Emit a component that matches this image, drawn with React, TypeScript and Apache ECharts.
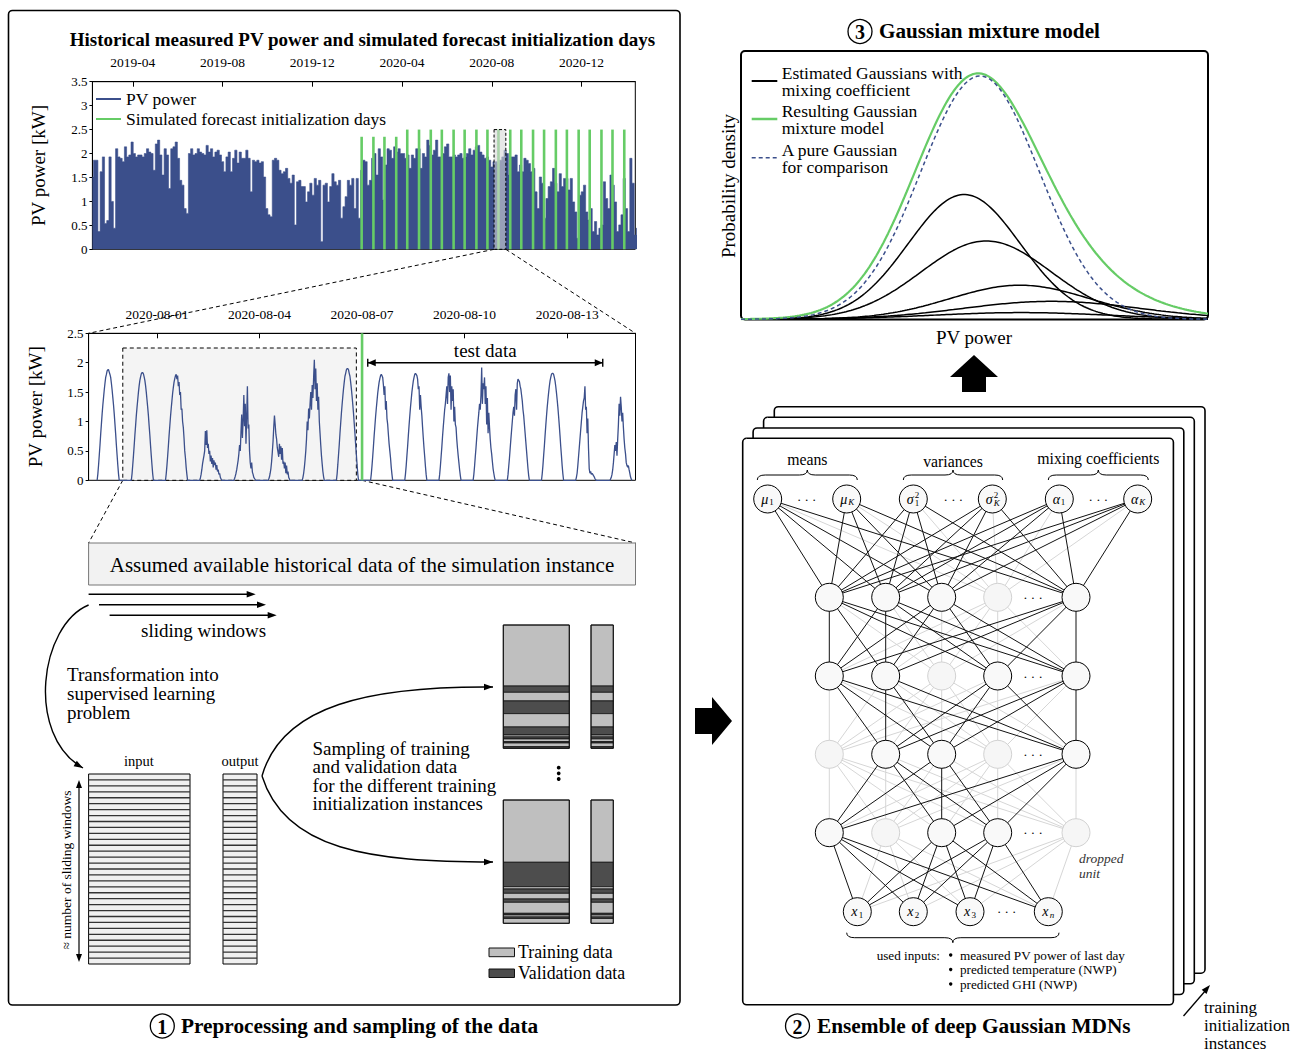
import React, { useEffect, useRef } from 'react';
import * as echarts from 'echarts';

const SERIF = '"Liberation Serif", "Times New Roman", serif';
const BLUE = '#3b4f8b';
const GREEN = '#66cc66';

// ---------------- top chart data ----------------
const topRange = ['2019-02-05', '2021-02-12'];
const topTicks = ['2019-04-01', '2019-08-01', '2019-12-01', '2020-04-01', '2020-08-01', '2020-12-01'];
const pvStartDate = '2019-02-05';
const pvStepDays = 3;
const pvPeakPower = [
  1.51, 1.86, 1.86, 0.37, 1.62, 1.93, 0.54, 0.6, 1.93, 1.0, 0.44, 2.1, 1.93, 1.9, 1.83, 2.14, 1.93, 1.97, 2.24, 2.0,
  1.93, 1.97, 1.97, 1.93, 2.0, 2.1, 2.03, 2.0, 1.65, 2.2, 2.28, 1.97, 1.55, 2.1, 1.97, 1.27, 2.1, 2.14, 2.24, 1.9,
  1.44, 1.34, 0.85, 0.75, 2.0, 2.1, 1.97, 2.0, 2.1, 2.03, 2.0, 1.97, 2.17, 2.03, 2.1, 1.93, 2.03, 2.07, 1.97, 1.83,
  1.62, 1.93, 2.03, 1.62, 1.9, 2.07, 1.8, 2.03, 1.9, 1.9, 2.07, 1.9, 1.2, 1.86, 1.83, 1.86, 1.8, 1.83, 1.51, 0.85,
  0.72, 0.68, 1.86,
  1.9, 1.86, 1.65, 1.58, 1.62, 1.69, 1.48, 1.38, 1.55, 0.51, 1.41, 1.44, 1.31, 1.31, 0.99, 1.2, 1.38, 1.13, 1.48, 1.34,
  1.44, 0.16, 1.34, 1.38, 0.99, 1.31, 1.58, 1.41, 1.34, 1.44, 0.65, 0.89, 1.1, 1.44, 1.34, 1.48, 0.85, 1.48, 0.65, 1.65,
  1.86, 1.83, 1.34, 1.44, 1.9, 2.0, 1.55, 2.1, 1.93, 1.03, 1.76, 2.1, 2.07, 1.9, 2.14, 2.03, 2.1, 2.0, 2.0, 1.9,
  1.97, 1.69, 1.97, 1.9, 2.1, 2.1, 1.69, 2.0, 1.93, 2.28, 2.17, 1.97, 2.07, 2.28, 1.93, 1.93, 2.0, 2.14, 2.2, 1.93,
  1.93, 1.97, 1.93,
  1.97, 2.0, 1.9, 1.93, 2.0, 2.1, 1.97, 2.07, 2.14, 2.17, 2.03, 1.97, 1.9, 1.93, 1.86, 1.72, 1.83, 1.83, 1.79, 1.86,
  1.93, 2.07, 2.0, 1.55, 1.93, 1.93, 1.97, 1.62, 1.76, 1.62, 1.9, 1.86, 1.79, 1.62, 1.69, 1.2, 0.85, 1.51, 1.38, 0.65,
  1.06, 1.31, 1.41, 1.69, 1.38, 1.2, 1.58, 1.31, 1.48, 1.48, 1.24, 1.48, 0.99, 0.78, 0.23, 1.13, 1.2, 1.34, 0.78, 0.61,
  0.85, 0.37, 0.58, 0.3, 0.44, 0.51, 1.41, 1.06, 0.85, 1.55, 1.34, 0.99, 0.37, 0.51, 0.72, 1.48, 0.85, 0.37, 1.9, 1.38,
  0.3, 0.44,
];
const initDays = [
  '2020-02-06', '2020-02-22', '2020-03-08', '2020-03-24', '2020-04-08', '2020-04-24', '2020-05-10', '2020-05-25',
  '2020-06-10', '2020-06-25', '2020-07-11', '2020-07-26', '2020-08-10', '2020-08-26', '2020-09-10', '2020-09-26',
  '2020-10-11', '2020-10-27', '2020-11-11', '2020-11-27', '2020-12-12', '2020-12-28', '2021-01-12', '2021-01-28',
];
const initHeights = [2.35, 2.35, 2.35, 2.35, 2.5, 2.5, 2.5, 2.5, 2.5, 2.5, 2.5, 2.5, 2.5, 2.5, 2.5, 2.5, 2.5, 2.5, 2.5, 2.5, 2.5, 2.5, 2.5, 2.5];
const topZoomBox = ['2020-08-04', '2020-08-20'];
const topZoomBoxTop = 2.5;

// ---------------- zoomed chart data ----------------
const zoomRange = ['2020-07-30', '2020-08-15'];
const zoomTicks = ['2020-08-01', '2020-08-04', '2020-08-07', '2020-08-10', '2020-08-13'];
const zoomDays = [
  '2020-07-30', '2020-07-31', '2020-08-01', '2020-08-02', '2020-08-03', '2020-08-04', '2020-08-05', '2020-08-06',
  '2020-08-07', '2020-08-08', '2020-08-09', '2020-08-10', '2020-08-11', '2020-08-12', '2020-08-13', '2020-08-14',
];
const zoomFirstHour = 6;
const zoomSlotMinutes = 30;
const zoomProfiles = [
  [0, 0.11, 0.26, 0.43, 0.6, 0.79, 0.96, 1.13, 1.28, 1.41, 1.54, 1.65, 1.75, 1.8, 1.86, 1.88, 1.88, 1.84, 1.8, 1.75, 1.65, 1.54, 1.41, 1.28, 1.13, 0.96, 0.79, 0.6, 0.43, 0.26, 0.11, 0],
  [0, 0.11, 0.26, 0.42, 0.59, 0.77, 0.93, 1.1, 1.24, 1.37, 1.5, 1.61, 1.7, 1.76, 1.81, 1.83, 1.83, 1.81, 1.76, 1.7, 1.61, 1.5, 1.37, 1.24, 1.1, 0.93, 0.77, 0.59, 0.42, 0.26, 0.11, 0],
  [0, 0.11, 0.25, 0.41, 0.58, 0.76, 0.92, 1.08, 1.22, 1.35, 1.48, 1.58, 1.67, 1.73, 1.78, 1.8, 1.72, 1.78, 1.6, 1.67, 1.45, 1.5, 1.2, 1.22, 1.0, 0.9, 0.72, 0.5, 0.38, 0.22, 0.1, 0],
  [0, 0.04, 0.1, 0.18, 0.28, 0.35, 0.42, 0.5, 0.84, 0.6, 0.85, 0.55, 0.62, 0.45, 0.5, 0.32, 0.42, 0.28, 0.38, 0.22, 0.34, 0.26, 0.3, 0.18, 0.26, 0.15, 0.18, 0.1, 0.12, 0.05, 0.02, 0],
  [0, 0.03, 0.07, 0.12, 0.18, 0.26, 0.34, 0.45, 0.6, 0.5, 0.82, 1.12, 0.72, 1.02, 1.45, 0.92, 1.3, 0.62, 1.1, 1.6, 0.88, 0.95, 0.5, 0.3, 0.2, 0.3, 0.14, 0.1, 0.05, 0.03, 0.01, 0],
  [0, 0.02, 0.06, 0.12, 0.2, 0.32, 0.48, 0.66, 0.9, 1.1, 0.95, 0.78, 0.7, 0.55, 0.48, 0.4, 0.62, 0.45, 0.58, 0.35, 0.55, 0.28, 0.32, 0.2, 0.3, 0.12, 0.25, 0.1, 0.15, 0.05, 0.02, 0],
  [0, 0.05, 0.12, 0.22, 0.35, 0.5, 0.7, 1.0, 0.85, 1.22, 1.05, 1.3, 1.5, 1.2, 1.62, 1.4, 1.75, 2.05, 1.55, 1.9, 1.35, 1.65, 1.2, 1.42, 1.0, 0.8, 0.6, 0.42, 0.28, 0.15, 0.06, 0],
  [0, 0.11, 0.27, 0.44, 0.61, 0.8, 0.97, 1.14, 1.29, 1.43, 1.56, 1.67, 1.77, 1.82, 1.88, 1.9, 1.9, 1.88, 1.82, 1.77, 1.67, 1.56, 1.43, 1.29, 1.14, 0.97, 0.8, 0.61, 0.44, 0.27, 0.11, 0],
  [0, 0.11, 0.25, 0.41, 0.58, 0.76, 0.92, 1.08, 1.22, 1.35, 1.48, 1.58, 1.67, 1.73, 1.78, 1.8, 1.78, 1.75, 1.62, 1.45, 1.6, 1.2, 1.35, 1.05, 0.95, 0.78, 0.62, 0.5, 0.38, 0.22, 0.1, 0],
  [0, 0.11, 0.25, 0.42, 0.58, 0.76, 0.93, 1.09, 1.24, 1.37, 1.5, 1.6, 1.69, 1.75, 1.8, 1.82, 1.8, 1.78, 1.72, 1.55, 1.6, 1.2, 1.45, 1.25, 1.1, 0.9, 0.72, 0.55, 0.4, 0.24, 0.1, 0],
  [0, 0.1, 0.24, 0.4, 0.56, 0.74, 0.9, 1.05, 1.2, 1.3, 1.45, 1.6, 1.3, 1.75, 1.82, 1.5, 1.78, 1.2, 1.6, 1.35, 1.55, 1.0, 1.25, 0.95, 0.9, 0.7, 0.55, 0.42, 0.3, 0.18, 0.08, 0],
  [0, 0.1, 0.24, 0.4, 0.55, 0.72, 0.88, 1.02, 1.15, 1.3, 1.2, 1.45, 1.92, 1.3, 1.65, 1.55, 1.75, 1.3, 1.6, 0.95, 1.4, 0.8, 1.15, 0.9, 0.7, 0.55, 0.45, 0.32, 0.2, 0.12, 0.05, 0],
  [0, 0.1, 0.24, 0.38, 0.54, 0.7, 0.85, 1.0, 1.15, 1.25, 1.1, 1.45, 1.55, 1.2, 1.65, 1.72, 1.7, 1.68, 1.6, 1.55, 1.45, 1.35, 1.2, 1.1, 0.95, 0.8, 0.65, 0.5, 0.35, 0.2, 0.08, 0],
  [0, 0.11, 0.25, 0.42, 0.58, 0.76, 0.93, 1.09, 1.24, 1.37, 1.49, 1.6, 1.69, 1.75, 1.8, 1.82, 1.82, 1.8, 1.75, 1.69, 1.6, 1.49, 1.37, 1.24, 1.09, 0.93, 0.76, 0.58, 0.42, 0.25, 0.11, 0],
  [0, 0.05, 0.12, 0.25, 0.4, 0.55, 0.7, 0.85, 1.0, 1.15, 1.25, 1.35, 1.4, 1.6, 1.2, 1.25, 0.8, 1.05, 0.55, 0.2, 0.12, 0.15, 0.1, 0.12, 0.1, 0.08, 0.06, 0.03, 0.01, 0, 0, 0],
  [0, 0.02, 0.05, 0.1, 0.18, 0.3, 0.45, 0.6, 0.5, 0.65, 0.42, 0.7, 0.95, 1.3, 1.1, 1.42, 1.25, 1.0, 1.15, 0.9, 0.7, 0.55, 0.45, 0.3, 0.25, 0.22, 0.25, 0.18, 0.12, 0.06, 0.02, 0],
];
const zoomInitDay = '2020-08-07';
const trainingWindow = ['2020-07-31 00:00', '2020-08-06 20:00'];
const trainingWindowTop = 2.25;
const testWindow = ['2020-08-07 04:00', '2020-08-14 01:00'];
const testWindowLevel = 2.0;

// ---------------- GMM data: [mean, std, peak height] ----------------
const gmmComponents = [
  [4.78, 1.2, 0.465],
  [5.25, 1.39, 0.292],
  [5.97, 1.5, 0.127],
  [6.65, 1.9, 0.067],
  [6.0, 1.9, 0.025],
];
const pureGaussian = [5.12, 1.27, 0.907];
const gmmXMax = 10;
const gmmSamples = 201;

// ---------------- sampling illustration: [kind, from, to] fractions ----------------
const sampleSetA = [
  ['t', 0, 0.495], ['v', 0.495, 0.546], ['t', 0.546, 0.616], ['v', 0.616, 0.719], ['t', 0.719, 0.827], ['v', 0.827, 0.892],
  ['t', 0.892, 0.908], ['v', 0.908, 0.924], ['t', 0.924, 0.946], ['v', 0.946, 0.957], ['t', 0.957, 0.987], ['v', 0.987, 1],
];
const sampleSetB = [
  ['t', 0, 0.505], ['v', 0.505, 0.703], ['t', 0.703, 0.722], ['v', 0.722, 0.757], ['t', 0.757, 0.803], ['v', 0.803, 0.83],
  ['t', 0.83, 0.919], ['v', 0.919, 0.932], ['t', 0.932, 0.949], ['v', 0.949, 0.961], ['t', 0.961, 1],
];
const stripeRows = 32;

// ---------------- network layout ----------------
const nnOutputX = [767.7, 846.7, 913.3, 992.3, 1059.3, 1137.7];
const nnOutputY = 499;
const nnHiddenX = [829.3, 885.7, 941.7, 997.7, 1076];
const nnHiddenY = [597.3, 676, 754.3, 832.7];
const nnDropped = [[3], [2], [0, 3], [1, 4]];
const nnInputX = [857.3, 913.3, 970, 1048.3];
const nnInputY = 911.7;

function parseDate(s: string): number {
  const [dp, tp] = s.split(' ');
  const [y, m, d] = dp.split('-').map(Number);
  let h = 0, mi = 0;
  if (tp) [h, mi] = tp.split(':').map(Number);
  return new Date(y, m - 1, d, h, mi).getTime();
}
const pad = (n: number) => (n < 10 ? '0' + n : '' + n);
const fmtMonth = (v: number) => { const d = new Date(v); return d.getFullYear() + '-' + pad(d.getMonth() + 1); };
const fmtDay = (v: number) => { const d = new Date(v); return d.getFullYear() + '-' + pad(d.getMonth() + 1) + '-' + pad(d.getDate()); };

const GRID_TOP = { left: 92.4, top: 81.7, width: 542.9, height: 167.6 };
const GRID_ZOOM = { left: 88.6, top: 333.3, width: 546.9, height: 147 };
const GRID_GMM = { left: 741, top: 51, width: 467, height: 268.3 };

function buildOption(): any {
  const [sy, sm, sd] = pvStartDate.split('-').map(Number);
  const pvData = pvPeakPower.map((v, i) => [new Date(sy, sm - 1, sd + pvStepDays * i).getTime(), v]);
  const initData = initDays.map((d, i) => [parseDate(d), initHeights[i]]);
  const zoomData: number[][] = [];
  zoomDays.forEach((day, di) => {
    const [y, m, d] = day.split('-').map(Number);
    zoomProfiles[di].forEach((v, j) => {
      zoomData.push([new Date(y, m - 1, d, zoomFirstHour, zoomSlotMinutes * j).getTime(), v]);
    });
  });
  const gx = Array.from({ length: gmmSamples }, (_, i) => (i * gmmXMax) / (gmmSamples - 1));
  const g = (x: number, p: number[]) => p[2] * Math.exp(-((x - p[0]) ** 2) / (2 * p[1] * p[1]));

  const axisLbl = { color: '#000', fontFamily: SERIF };
  const timeAxis = (gridIndex: number, range: string[], ticks: string[], fmt: any) => {
    const tv = ticks.map(parseDate);
    return {
      type: 'value', gridIndex, position: 'top', min: parseDate(range[0]), max: parseDate(range[1]),
      axisLine: { show: true, onZero: false, lineStyle: { color: '#000', width: 1 } },
      axisTick: { show: true, inside: true, length: 5, lineStyle: { color: '#000' }, customValues: tv },
      axisLabel: { show: true, customValues: tv, formatter: fmt, fontSize: 13.5, margin: 12, ...axisLbl },
      splitLine: { show: false }, minorTick: { show: false },
    };
  };
  const valAxis = (gridIndex: number, max: number) => ({
    type: 'value', gridIndex, min: 0, max, interval: 0.5,
    name: 'PV power [kW]', nameLocation: 'middle', nameGap: 44,
    nameTextStyle: { fontSize: 19, fontFamily: SERIF, color: '#000' },
    axisLine: { show: true, lineStyle: { color: '#000' } },
    axisTick: { show: true, length: 3, lineStyle: { color: '#000' } },
    axisLabel: { fontSize: 13, margin: 5, ...axisLbl },
    splitLine: { show: false },
  });

  const series: any[] = [
    {
      name: 'PV power', type: 'line', xAxisIndex: 0, yAxisIndex: 0, data: pvData, step: 'middle',
      symbol: 'none', lineStyle: { color: BLUE, width: 0.6 }, itemStyle: { color: BLUE },
      areaStyle: { color: BLUE, opacity: 1 }, z: 2,
    },
    {
      name: 'Simulated forecast initialization days', type: 'bar', xAxisIndex: 0, yAxisIndex: 0,
      data: initData, barWidth: 2.6, itemStyle: { color: GREEN }, z: 3,
    },
    {
      name: 'zoomBox', type: 'custom', xAxisIndex: 0, yAxisIndex: 0, z: 5,
      data: [[parseDate(topZoomBox[0]), parseDate(topZoomBox[1]), topZoomBoxTop]],
      encode: { x: [0, 1], y: [2] },
      renderItem: (_p: any, api: any) => {
        const a = api.coord([api.value(0), 0]);
        const b = api.coord([api.value(1), api.value(2)]);
        return {
          type: 'rect', shape: { x: a[0], y: b[1], width: b[0] - a[0], height: a[1] - b[1] },
          style: { fill: 'rgba(215,215,215,0.6)', stroke: '#000', lineWidth: 1, lineDash: [3, 2] },
        };
      },
    },
    {
      name: 'trainingBox', type: 'custom', xAxisIndex: 1, yAxisIndex: 1, z: 1,
      data: [[parseDate(trainingWindow[0]), parseDate(trainingWindow[1]), trainingWindowTop]],
      encode: { x: [0, 1], y: [2] },
      renderItem: (_p: any, api: any) => {
        const a = api.coord([api.value(0), 0]);
        const b = api.coord([api.value(1), api.value(2)]);
        return {
          type: 'rect', shape: { x: a[0], y: b[1], width: b[0] - a[0], height: a[1] - b[1] },
          style: { fill: '#f4f4f4', stroke: '#000', lineWidth: 1, lineDash: [4, 3] },
        };
      },
    },
    {
      name: 'PV power zoom', type: 'line', xAxisIndex: 1, yAxisIndex: 1, data: zoomData,
      symbol: 'none', lineStyle: { color: BLUE, width: 1.3 }, itemStyle: { color: BLUE }, z: 2,
    },
    {
      name: 'initLine', type: 'custom', xAxisIndex: 1, yAxisIndex: 1, z: 3,
      data: [[parseDate(zoomInitDay), 2.5]], encode: { x: [0], y: [1] },
      renderItem: (_p: any, api: any) => {
        const a = api.coord([api.value(0), 0]);
        const b = api.coord([api.value(0), api.value(1)]);
        return { type: 'line', shape: { x1: a[0], y1: a[1], x2: b[0], y2: b[1] }, style: { stroke: GREEN, lineWidth: 2.6 } };
      },
    },
    {
      name: 'testArrow', type: 'custom', xAxisIndex: 1, yAxisIndex: 1, z: 4,
      data: [[parseDate(testWindow[0]), parseDate(testWindow[1]), testWindowLevel]], encode: { x: [0, 1], y: [2] },
      renderItem: (_p: any, api: any) => {
        const a = api.coord([api.value(0), api.value(2)]);
        const b = api.coord([api.value(1), api.value(2)]);
        const y = a[1];
        return {
          type: 'group',
          children: [
            { type: 'line', shape: { x1: a[0], y1: y, x2: b[0], y2: y }, style: { stroke: '#000', lineWidth: 1.6 } },
            { type: 'line', shape: { x1: a[0], y1: y - 4, x2: a[0], y2: y + 4 }, style: { stroke: '#000', lineWidth: 1.4 } },
            { type: 'line', shape: { x1: b[0], y1: y - 4, x2: b[0], y2: y + 4 }, style: { stroke: '#000', lineWidth: 1.4 } },
            { type: 'polygon', shape: { points: [[a[0], y], [a[0] + 8, y - 3.5], [a[0] + 8, y + 3.5]] }, style: { fill: '#000' } },
            { type: 'polygon', shape: { points: [[b[0], y], [b[0] - 8, y - 3.5], [b[0] - 8, y + 3.5]] }, style: { fill: '#000' } },
            {
              type: 'text', x: (a[0] + b[0]) / 2, y: y - 12.5,
              style: { text: 'test data', fontSize: 19, fontFamily: SERIF, fill: '#000', align: 'center', verticalAlign: 'middle', textAlign: 'center', textVerticalAlign: 'middle' },
            },
          ],
        };
      },
    },
  ];
  gmmComponents.forEach((c, k) => {
    series.push({
      name: 'Gaussian ' + (k + 1), type: 'line', xAxisIndex: 2, yAxisIndex: 2, symbol: 'none', z: 3,
      data: gx.map((x) => [x, g(x, c)]), lineStyle: { color: '#000', width: 1.5 },
    });
  });
  series.push({
    name: 'Resulting Gaussian mixture model', type: 'line', xAxisIndex: 2, yAxisIndex: 2, symbol: 'none', z: 4,
    data: gx.map((x) => [x, gmmComponents.reduce((s, c) => s + g(x, c), 0)]), lineStyle: { color: GREEN, width: 2.2 },
  });
  series.push({
    name: 'A pure Gaussian for comparison', type: 'line', xAxisIndex: 2, yAxisIndex: 2, symbol: 'none', z: 5,
    data: gx.map((x) => [x, g(x, pureGaussian)]), lineStyle: { color: BLUE, width: 1.5, type: [4, 3] },
  });

  return {
    animation: false,
    textStyle: { fontFamily: SERIF },
    grid: [
      { ...GRID_TOP, show: true, borderColor: '#000', borderWidth: 1, containLabel: false },
      { ...GRID_ZOOM, show: true, borderColor: '#000', borderWidth: 1, containLabel: false },
      { ...GRID_GMM, show: false, containLabel: false },
    ],
    xAxis: [
      timeAxis(0, topRange, topTicks, fmtMonth),
      timeAxis(1, zoomRange, zoomTicks, fmtDay),
      { type: 'value', gridIndex: 2, min: 0, max: gmmXMax, show: false },
    ],
    yAxis: [
      valAxis(0, 3.5),
      valAxis(1, 2.5),
      { type: 'value', gridIndex: 2, min: 0, max: 1, show: false },
    ],
    legend: {
      data: [{ name: 'PV power', icon: 'rect' }, { name: 'Simulated forecast initialization days', icon: 'rect' }],
      orient: 'vertical', left: 96, top: 90, itemWidth: 25, itemHeight: 2, itemGap: 2, padding: 0,
      textStyle: { fontFamily: SERIF, fontSize: 17.5, color: '#000', lineHeight: 18, padding: [0, 0, 0, 0] },
      selectedMode: false,
    },
    series,
  };
}

function buildGraphics(chart: any): any[] {
  const G: any[] = [];
  const ln = (x1: number, y1: number, x2: number, y2: number, stroke = '#000', lw = 1, dash?: number[]) =>
    G.push({ type: 'line', silent: true, shape: { x1, y1, x2, y2 }, style: { stroke, lineWidth: lw, lineDash: dash || null } });
  const tx = (x: number, y: number, text: string, o: any = {}) =>
    G.push({
      type: 'text', silent: true, x, y, rotation: o.rot || 0,
      style: {
        text, fill: o.color || '#000', fontFamily: SERIF, fontSize: o.size || 16, fontWeight: o.weight || 'normal',
        fontStyle: o.style || 'normal', align: o.align || 'left', verticalAlign: 'middle',
        textAlign: o.align || 'left', textVerticalAlign: 'middle', lineHeight: o.lh || undefined,
      },
    });
  // multi-line block: y is the centre of the first line
  const block = (x: number, y: number, lines: string[], lh: number, o: any = {}) =>
    tx(x, y + ((lines.length - 1) * lh) / 2, lines.join('\n'), { ...o, lh });
  const rect = (x: number, y: number, w: number, h: number, style: any, r = 0) =>
    G.push({ type: 'rect', silent: true, shape: { x, y, width: w, height: h, r }, style });
  const head = (x: number, y: number, ang: number, len = 8, half = 3.2) => {
    const c = Math.cos(ang), s = Math.sin(ang);
    const bx = x - len * c, by = y - len * s;
    G.push({ type: 'polygon', silent: true, shape: { points: [[x, y], [bx - half * s, by + half * c], [bx + half * s, by - half * c]] }, style: { fill: '#000' } });
  };
  const curveArrow = (x1: number, y1: number, c1x: number, c1y: number, c2x: number, c2y: number, x2: number, y2: number) => {
    G.push({ type: 'bezierCurve', silent: true, shape: { x1, y1, x2, y2, cpx1: c1x, cpy1: c1y, cpx2: c2x, cpy2: c2y }, style: { stroke: '#000', lineWidth: 1.4, fill: 'none' } });
    head(x2, y2, Math.atan2(y2 - c2y, x2 - c2x), 9, 3.2);
  };
  const brace = (xa: number, xb: number, y0: number, h: number) => {
    const y1 = y0 + h / 2, y2 = y0 + h, xm = (xa + xb) / 2, r = 8;
    const q = (x1: number, yy1: number, cx: number, cy: number, x2: number, yy2: number) =>
      G.push({ type: 'bezierCurve', silent: true, shape: { x1, y1: yy1, x2, y2: yy2, cpx1: cx, cpy1: cy }, style: { stroke: '#000', lineWidth: 1, fill: 'none' } });
    q(xa, y0, xa, y1, xa + r, y1);
    ln(xa + r, y1, xm - r, y1);
    q(xm - r, y1, xm, y1, xm, y2);
    q(xm, y2, xm, y1, xm + r, y1);
    ln(xm + r, y1, xb - r, y1);
    q(xb - r, y1, xb, y1, xb, y0);
  };
  const circNum = (cx: number, cy: number, n: string) => {
    G.push({ type: 'circle', silent: true, shape: { cx, cy, r: 12 }, style: { fill: 'none', stroke: '#000', lineWidth: 1.3 } });
    tx(cx, cy + 0.5, n, { size: 20, align: 'center', weight: 'bold' });
  };

  // ---------- left panel ----------
  rect(8.5, 10.5, 671.5, 994.5, { fill: 'none', stroke: '#000', lineWidth: 1.6 }, 4);
  tx(362.5, 39, 'Historical measured PV power and simulated forecast initialization days', { size: 19, weight: 'bold', align: 'center' });

  // dashed connectors
  const p0 = chart.convertToPixel({ xAxisIndex: 0, yAxisIndex: 0 }, [parseDate(topZoomBox[0]), 0]);
  const p1 = chart.convertToPixel({ xAxisIndex: 0, yAxisIndex: 0 }, [parseDate(topZoomBox[1]), 0]);
  const zl = GRID_ZOOM.left, zr = GRID_ZOOM.left + GRID_ZOOM.width, zt = GRID_ZOOM.top;
  ln(p0[0], p0[1], zl, zt, '#000', 1, [4, 3]);
  ln(p1[0], p1[1], zr, zt, '#000', 1, [4, 3]);
  const q0 = chart.convertToPixel({ xAxisIndex: 1, yAxisIndex: 1 }, [parseDate(trainingWindow[0]), 0]);
  const q1 = chart.convertToPixel({ xAxisIndex: 1, yAxisIndex: 1 }, [parseDate(zoomInitDay), 0]);
  ln(q0[0], q0[1], 88.6, 543, '#000', 1, [4, 3]);
  ln(q1[0], q1[1], 635.5, 543, '#000', 1, [4, 3]);

  // assumed data box
  rect(88.6, 543, 546.9, 42, { fill: '#f2f2f2', stroke: '#777', lineWidth: 1 });
  tx(362, 565, 'Assumed available historical data of the simulation instance', { size: 21, align: 'center' });

  // sliding windows
  [[88.6, 594.3, 255.7], [99, 604.7, 266], [109.6, 615.3, 276.7]].forEach(([x1, y, x2]) => {
    ln(x1, y, x2 - 6, y, '#000', 1.4);
    head(x2, y, 0, 9, 3.2);
  });
  tx(141, 630, 'sliding windows', { size: 19 });

  curveArrow(88.6, 605, 40, 625, 25, 735, 83, 768);
  block(67, 674, ['Transformation into', 'supervised learning', 'problem'], 19, { size: 19 });

  // input/output striped boxes
  const striped = (x: number, y: number, w: number, h: number) => {
    rect(x, y, w, h, { fill: '#f0f0f0', stroke: '#000', lineWidth: 1 });
    for (let k = 1; k < stripeRows; k++) {
      const yy = y + (h * k) / stripeRows;
      ln(x, yy, x + w, yy, '#333', 1.3);
    }
  };
  striped(88.6, 774, 101.4, 190);
  striped(223, 774, 34, 190);
  tx(139, 761, 'input', { size: 14.5, align: 'center' });
  tx(240, 761, 'output', { size: 14.5, align: 'center' });
  ln(79, 786, 79, 956, '#000', 1.2);
  head(79, 780, -Math.PI / 2, 8, 3);
  head(79, 962, Math.PI / 2, 8, 3);
  tx(66, 870, '≈ number of sliding windows', { size: 13.5, align: 'center', rot: Math.PI / 2 });

  // sampling
  block(312.5, 748, ['Sampling of training', 'and validation data', 'for the different training', 'initialization instances'], 18.5, { size: 19 });
  curveArrow(262, 776, 282, 705, 370, 686, 493, 687);
  curveArrow(262, 776, 285, 850, 370, 862, 493, 862);

  const sampleSet = (y: number, h: number, segs: any[]) => {
    [[503.3, 66], [591, 22.3]].forEach(([x, w]) => {
      segs.forEach(([k, a, b]: any) => {
        rect(x, y + a * h, w, (b - a) * h, { fill: k === 't' ? '#bfbfbf' : '#4d4d4d', stroke: '#111', lineWidth: 0.8 });
      });
      rect(x, y, w, h, { fill: 'none', stroke: '#111', lineWidth: 1 });
    });
  };
  sampleSet(625, 123.3, sampleSetA);
  sampleSet(800, 123.3, sampleSetB);
  [767.7, 773.3, 779].forEach((y) => G.push({ type: 'circle', silent: true, shape: { cx: 558.7, cy: y, r: 1.9 }, style: { fill: '#000' } }));
  rect(489, 948, 25.5, 8.7, { fill: '#bfbfbf', stroke: '#111', lineWidth: 1 });
  rect(489, 969, 25.5, 8.5, { fill: '#4d4d4d', stroke: '#111', lineWidth: 1 });
  tx(518, 952, 'Training data', { size: 17.8 });
  tx(518, 973, 'Validation data', { size: 17.8 });

  circNum(162.3, 1026, '1');
  tx(181, 1026, 'Preprocessing and sampling of the data', { size: 21.3, weight: 'bold' });

  // big arrows
  G.push({ type: 'polygon', silent: true, shape: { points: [[695, 708], [712, 708], [712, 697], [732, 721], [712, 745], [712, 734], [695, 734]] }, style: { fill: '#000' } });
  G.push({ type: 'polygon', silent: true, shape: { points: [[962, 392], [962, 377], [950, 377], [974, 355], [998, 377], [986, 377], [986, 392]] }, style: { fill: '#000' } });

  // ---------- GMM panel ----------
  circNum(860, 31.5, '3');
  tx(879, 31, 'Gaussian mixture model', { size: 21.2, weight: 'bold' });
  rect(741, 51, 467, 268.5, { fill: 'none', stroke: '#000', lineWidth: 2 }, 4);
  tx(728.5, 186, 'Probability density', { size: 19, align: 'center', rot: Math.PI / 2 });
  tx(974, 337, 'PV power', { size: 19, align: 'center' });
  ln(751.7, 81, 777.3, 81, '#000', 2);
  ln(751.7, 119, 777.3, 119, GREEN, 2.5);
  ln(751.7, 157.7, 777.3, 157.7, BLUE, 1.6, [4, 3]);
  block(781.7, 72.5, ['Estimated Gaussians with', 'mixing coefficient'], 17.6, { size: 17.5 });
  block(781.7, 110.7, ['Resulting Gaussian', 'mixture model'], 17.6, { size: 17.5 });
  block(781.7, 149.5, ['A pure Gaussian', 'for comparison'], 17.6, { size: 17.5 });

  // ---------- network panel ----------
  const pages = [[774.3, 406.7], [763.6, 417.3], [753.1, 428], [742.7, 438.3]];
  pages.forEach(([x, y]) => rect(x, y, 430.7, 566.5, { fill: '#fff', stroke: '#000', lineWidth: 1.6 }, 4));

  const layers: any[][] = [
    nnOutputX.map((x) => ({ x, y: nnOutputY, on: true })),
    ...nnHiddenY.map((y, li) => nnHiddenX.map((x, i) => ({ x, y, on: !nnDropped[li].includes(i) }))),
    nnInputX.map((x) => ({ x, y: nnInputY, on: true })),
  ];
  const edges: any[] = [];
  for (let l = 0; l < layers.length - 1; l++) {
    layers[l].forEach((a) => layers[l + 1].forEach((b) => edges.push([a, b, a.on && b.on])));
  }
  edges.filter((e) => !e[2]).forEach(([a, b]) => ln(a.x, a.y, b.x, b.y, '#d6d6d6', 1));
  edges.filter((e) => e[2]).forEach(([a, b]) => ln(a.x, a.y, b.x, b.y, '#111', 1));
  layers.forEach((layer) => layer.forEach((n: any) => {
    G.push({
      type: 'circle', silent: true, shape: { cx: n.x, cy: n.y, r: 14 },
      style: { fill: n.on ? '#f9f9f9' : '#f6f6f6', stroke: n.on ? '#000' : '#d2d2d2', lineWidth: 1 },
    });
  }));
  const sym = (cx: number, cy: number, main: string, sub: string, subItalic: boolean, sup?: string) => {
    tx(cx - 3, cy, main, { size: 14, style: 'italic', align: 'center' });
    if (sup) tx(cx + 1.5, cy - 4.5, sup, { size: 9 });
    tx(cx + 1.5, cy + (sup ? 4 : 3), sub, { size: 9, style: subItalic ? 'italic' : 'normal' });
  };
  sym(nnOutputX[0], nnOutputY, 'μ', '1', false);
  sym(nnOutputX[1], nnOutputY, 'μ', 'K', true);
  sym(nnOutputX[2], nnOutputY, 'σ', '1', false, '2');
  sym(nnOutputX[3], nnOutputY, 'σ', 'K', true, '2');
  sym(nnOutputX[4], nnOutputY, 'α', '1', false);
  sym(nnOutputX[5], nnOutputY, 'α', 'K', true);
  sym(nnInputX[0], nnInputY, 'x', '1', false);
  sym(nnInputX[1], nnInputY, 'x', '2', false);
  sym(nnInputX[2], nnInputY, 'x', '3', false);
  sym(nnInputX[3], nnInputY, 'x', 'n', true);
  [[806.7, nnOutputY], [953.3, nnOutputY], [1098.3, nnOutputY], [1006.7, nnInputY], ...nnHiddenY.map((y) => [1033, y])].forEach(([x, y]) =>
    tx(x, y, '· · ·', { size: 13, align: 'center' }));

  brace(757.3, 857.3, 480, -10);
  brace(903.3, 1002.7, 480, -10);
  brace(1048.3, 1148.3, 480, -10);
  tx(807.3, 459, 'means', { size: 15.8, align: 'center' });
  tx(953, 461, 'variances', { size: 15.8, align: 'center' });
  tx(1098.3, 458.5, 'mixing coefficients', { size: 15.8, align: 'center' });
  brace(846.7, 1059, 932.7, 10);
  tx(940, 955, 'used inputs:', { size: 13.2, align: 'right' });
  [0, 1, 2].forEach((i) => {
    G.push({ type: 'circle', silent: true, shape: { cx: 950.7, cy: 955 + 14.5 * i, r: 1.7 }, style: { fill: '#000' } });
  });
  block(960, 955, ['measured PV power of last day', 'predicted temperature (NWP)', 'predicted GHI (NWP)'], 14.5, { size: 13.2 });
  block(1079, 858, ['dropped', 'unit'], 15, { size: 13.5, style: 'italic', color: '#333' });

  // training instances arrow
  ln(1183.5, 1016, 1206, 990, '#000', 1.3);
  head(1210, 985, Math.atan2(-26, 22.5), 9, 3.2);
  block(1204, 1007, ['training', 'initialization', 'instances'], 18, { size: 17 });

  circNum(797.5, 1026, '2');
  tx(817, 1026, 'Ensemble of deep Gaussian MDNs', { size: 21.3, weight: 'bold' });
  return G;
}

export default function App() {
  const ref = useRef<HTMLDivElement>(null);
  useEffect(() => {
    const chart = echarts.init(ref.current!, undefined, { renderer: 'svg' });
    chart.setOption(buildOption());
    chart.setOption({ graphic: { elements: buildGraphics(chart) } });
    return () => chart.dispose();
  }, []);
  return (
    <div
      ref={ref}
      style={{ position: 'fixed', left: 0, top: 0, width: 1315, height: 1052, background: '#fff' }}
    />
  );
}
